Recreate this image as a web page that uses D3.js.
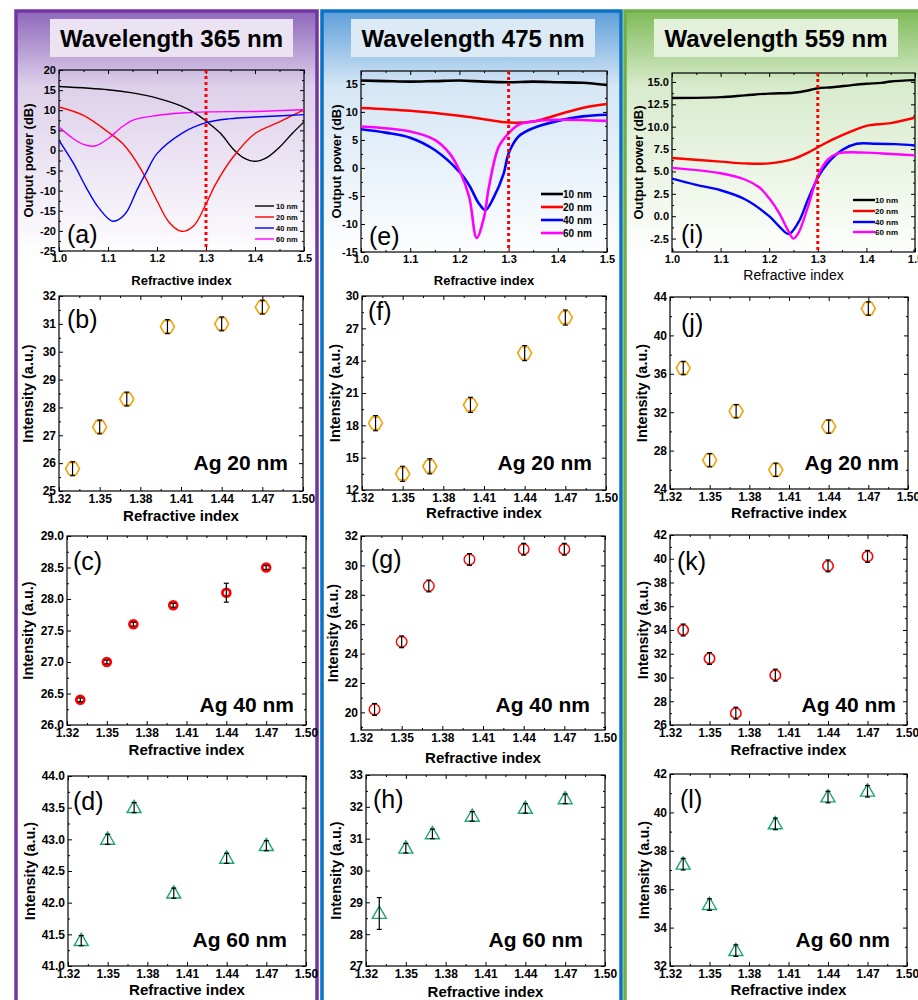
<!DOCTYPE html>
<html>
<head>
<meta charset="utf-8">
<script src="https://cdn.jsdelivr.net/npm/d3@7"></script>
<style>
  body { margin: 0; background: #fff; }
  svg { display: block; font-family: Arial, "Liberation Sans", sans-serif; }
</style>
</head>
<body>
<div id="chart"></div>
<script>
// ---- data ----
var thickness = ["10 nm", "20 nm", "40 nm", "60 nm"];
var lineColors = ["#000000", "#ff0000", "#0000ff", "#ff00ff"];

// output power (dB) vs refractive index
var c365_10 = [[1.0,15.9],[1.1,15.1],[1.15,14.3],[1.2,13.0],[1.25,11.0],[1.28,9.1],[1.3,7.3],[1.33,4.2],[1.355,0.4],[1.375,-1.7],[1.4,-2.7],[1.425,-1.7],[1.45,0.8],[1.475,4.1],[1.5,7.1]];
var c365_20 = [[1.0,10.8],[1.05,8.7],[1.1,4.6],[1.13,1.7],[1.165,-4.2],[1.2,-12.5],[1.225,-17.9],[1.25,-20.1],[1.275,-18.7],[1.3,-13.3],[1.32,-8.3],[1.355,-1.7],[1.4,4.2],[1.45,7.1],[1.5,10.1]];
var c365_40 = [[1.0,2.5],[1.03,-3.3],[1.055,-9.1],[1.08,-14.1],[1.11,-17.6],[1.135,-15.8],[1.16,-9.6],[1.18,-5.0],[1.2,-0.8],[1.25,4.2],[1.3,6.9],[1.35,7.9],[1.4,8.3],[1.5,8.9]];
var c365_60 = [[1.0,5.8],[1.025,3.3],[1.05,1.5],[1.073,1.1],[1.1,2.9],[1.124,5.4],[1.15,7.5],[1.2,8.7],[1.25,9.3],[1.3,9.6],[1.4,9.7],[1.5,10.1]];

var c475_10 = [[1.0,15.6],[1.05,15.5],[1.1,15.4],[1.15,15.5],[1.2,15.6],[1.25,15.4],[1.3,15.3],[1.35,15.4],[1.4,15.3],[1.45,15.2],[1.5,14.8]];
var c475_20 = [[1.0,10.7],[1.1,10.2],[1.2,9.3],[1.25,8.7],[1.3,8.1],[1.35,8.3],[1.4,9.5],[1.45,10.7],[1.5,11.4]];
var c475_40 = [[1.0,6.9],[1.05,6.3],[1.1,5.4],[1.15,3.2],[1.2,-0.7],[1.22,-3.1],[1.24,-6.4],[1.253,-7.5],[1.27,-5.2],[1.29,-1.0],[1.3,2.6],[1.32,5.6],[1.35,7.1],[1.4,8.4],[1.45,9.2],[1.5,9.5]];
var c475_60 = [[1.0,7.4],[1.1,6.5],[1.15,5.0],[1.18,2.6],[1.2,-0.4],[1.22,-5.2],[1.235,-12.5],[1.25,-8.8],[1.26,-3.4],[1.28,3.8],[1.3,6.2],[1.32,7.7],[1.35,8.3],[1.4,8.6],[1.5,8.4]];

var c559_10 = [[1.0,13.2],[1.1,13.3],[1.15,13.5],[1.2,13.7],[1.25,13.8],[1.28,14.05],[1.3,14.3],[1.33,14.4],[1.37,14.65],[1.4,14.8],[1.43,14.9],[1.45,15.05],[1.5,15.2]];
var c559_20 = [[1.0,6.5],[1.1,6.1],[1.15,5.9],[1.2,5.9],[1.25,6.4],[1.28,7.1],[1.3,7.7],[1.33,8.55],[1.37,9.5],[1.4,10.1],[1.45,10.4],[1.5,11.0]];
var c559_40 = [[1.0,4.2],[1.05,3.5],[1.1,2.9],[1.15,1.9],[1.2,0.0],[1.22,-1.1],[1.24,-2.0],[1.26,-0.7],[1.28,1.9],[1.3,4.3],[1.32,5.9],[1.35,7.4],[1.38,8.1],[1.42,8.1],[1.46,8.05],[1.5,7.9]];
var c559_60 = [[1.0,5.4],[1.1,4.8],[1.15,4.1],[1.18,3.2],[1.2,2.0],[1.22,0.4],[1.24,-1.7],[1.25,-2.5],[1.26,-1.9],[1.28,1.1],[1.3,4.5],[1.32,6.3],[1.34,7.0],[1.4,7.1],[1.45,6.95],[1.5,6.8]];

// intensity vs refractive index
var refIdx = [1.33, 1.35, 1.37, 1.40, 1.44, 1.47];
var ag20_365 = [25.8, 27.3, 28.3, 30.9, 31.0, 31.6];
var ag20_365err = [0.25, 0.25, 0.25, 0.25, 0.25, 0.25];
var ag20_475 = [18.2, 13.5, 14.2, 19.9, 24.7, 28.0];
var ag20_475err = [0.7, 0.7, 0.7, 0.7, 0.7, 0.7];
var ag20_559 = [36.6, 27.0, 32.1, 26.0, 30.5, 42.8];
var ag20_559err = [0.7, 0.7, 0.7, 0.7, 0.7, 0.7];
var ag40_365 = [26.4, 27.0, 27.6, 27.9, 28.1, 28.5];
var ag40_365err = [0.03, 0.03, 0.03, 0.03, 0.15, 0.03];
var ag40_475 = [20.2, 24.8, 28.6, 30.4, 31.1, 31.1];
var ag40_475err = [0.4, 0.4, 0.4, 0.4, 0.4, 0.4];
var ag40_559 = [34.0, 31.6, 27.0, 30.2, 39.4, 40.2];
var ag40_559err = [0.5, 0.5, 0.5, 0.5, 0.5, 0.5];
var ag60_365 = [41.4, 43.0, 43.5, 42.15, 42.7, 42.9];
var ag60_365err = [0.08, 0.08, 0.08, 0.08, 0.08, 0.08];
var ag60_475 = [28.65, 30.7, 31.15, 31.7, 31.95, 32.25];
var ag60_475err = [0.5, 0.15, 0.15, 0.15, 0.15, 0.15];
var ag60_559 = [37.3, 35.2, 32.8, 39.4, 40.8, 41.1];
var ag60_559err = [0.3, 0.3, 0.3, 0.3, 0.3, 0.3];

// tick labels
var nTicksTop = [1.0, 1.1, 1.2, 1.3, 1.4, 1.5];
var nTicksScatter = [1.32, 1.35, 1.38, 1.41, 1.44, 1.47, 1.50];
var yTicks_a = [-25, -20, -15, -10, -5, 0, 5, 10, 15, 20];
var yTicks_e = [-15, -10, -5, 0, 5, 10, 15];
var yTicks_i = [-2.5, 0, 2.5, 5, 7.5, 10, 12.5, 15];
var yTicks_b = [25, 26, 27, 28, 29, 30, 31, 32];
var yTicks_f = [12, 15, 18, 21, 24, 27, 30];
var yTicks_j = [24, 28, 32, 36, 40, 44];
var yTicks_c = [26, 26.5, 27, 27.5, 28, 28.5, 29];
var yTicks_g = [20, 22, 24, 26, 28, 30, 32];
var yTicks_k = [26, 28, 30, 32, 34, 36, 38, 40, 42];
var yTicks_d = [41, 41.5, 42, 42.5, 43, 43.5, 44];
var yTicks_h = [27, 28, 29, 30, 31, 32, 33];
var yTicks_l = [32, 34, 36, 38, 40, 42];

// ---- drawing ----
var svg = d3.select("#chart").append("svg")
    .attr("width", 918)
    .attr("height", 1000);

var defs = svg.append("defs");

var columns = [
  { x: 16, w: 301, stroke: "#7434a4", c0: "#8e67bb", c1: "#ddd0ea", box: [50, 293], boxFill: "#ebe3f2", title: "Wavelength 365 nm" },
  { x: 322, w: 299, stroke: "#0872c4", c0: "#5e9fda", c1: "#d5e6f5", box: [351, 595], boxFill: "#dceaf6", title: "Wavelength 475 nm" },
  { x: 625, w: 400, stroke: "#6fae48", c0: "#7fbb5a", c1: "#d8ebcc", box: [654, 898], boxFill: "#e3f0da", title: "Wavelength 559 nm" }
];

columns.forEach(function(c, i) {
  var grad = defs.append("linearGradient")
      .attr("id", "colgrad" + i)
      .attr("gradientUnits", "userSpaceOnUse")
      .attr("x1", 0).attr("x2", 0).attr("y1", 11).attr("y2", 260);
  grad.append("stop").attr("offset", 0).attr("stop-color", c.c0);
  grad.append("stop").attr("offset", 0.3).attr("stop-color", c.c1);
  grad.append("stop").attr("offset", 1).attr("stop-color", "#ffffff");

  svg.append("rect")
      .attr("x", c.x).attr("y", 11)
      .attr("width", c.w).attr("height", 1100)
      .attr("fill", "url(#colgrad" + i + ")")
      .attr("stroke", c.stroke)
      .attr("stroke-width", 3.5);

  svg.append("rect")
      .attr("x", c.box[0]).attr("y", 19)
      .attr("width", c.box[1] - c.box[0]).attr("height", 38)
      .attr("fill", c.boxFill);

  svg.append("text")
      .attr("x", (c.box[0] + c.box[1]) / 2)
      .attr("y", 47)
      .attr("text-anchor", "middle")
      .attr("font-size", 24)
      .attr("font-weight", "bold")
      .text(c.title);
});

function fmtDash(f) {
  return function(d) { return f(d).replace("\u2212", "-"); };
}

// frame + axes with inward ticks on all four sides
function makeFrame(p) {
  var f = p.f;
  var g = svg.append("g");
  var x = d3.scaleLinear().domain(p.xDom).range([f[0], f[1]]);
  var y = d3.scaleLinear().domain(p.yDom).range([f[3], f[2]]);

  var xMinor = [], yMinor = [];
  for (var i = 0; i < p.xTicks.length - 1; i++) xMinor.push((p.xTicks[i] + p.xTicks[i + 1]) / 2);
  for (var j = 0; j < p.yTicks.length - 1; j++) yMinor.push((p.yTicks[j] + p.yTicks[j + 1]) / 2);
  if (p.yDom[0] < p.yTicks[0]) yMinor.push(p.yTicks[0] - (p.yTicks[1] - p.yTicks[0]) / 2);
  if (p.yDom[1] > p.yTicks[p.yTicks.length - 1]) yMinor.push(p.yTicks[p.yTicks.length - 1] + (p.yTicks[1] - p.yTicks[0]) / 2);
  yMinor = yMinor.filter(function(v) { return v >= p.yDom[0] && v <= p.yDom[1]; });

  var axes = [
    [d3.axisBottom(x), f[3], "x", true],
    [d3.axisTop(x), f[2], "x", false],
    [d3.axisLeft(y), f[0], "y", true],
    [d3.axisRight(y), f[1], "y", false]
  ];
  axes.forEach(function(a) {
    var ax = a[0];
    var tr = a[2] === "x" ? "translate(0," + a[1] + ")" : "translate(" + a[1] + ",0)";
    var major = ax.tickValues(a[2] === "x" ? p.xTicks : p.yTicks)
        .tickSize(-4).tickPadding(a[2] === "x" ? 3 : 3)
        .tickFormat(a[3] ? (a[2] === "x" ? p.fmtX : p.fmtY) : "");
    var gm = g.append("g").attr("transform", tr).call(major);
    gm.select(".domain").remove();
    gm.selectAll("text")
        .attr("font-size", p.tickFont)
        .attr("font-weight", "bold")
        .attr("font-family", "Arial, 'Liberation Sans', sans-serif")
        .attr("fill", "#000");
    gm.selectAll("line").attr("stroke", "#000");
    var ax2 = (a[2] === "x")
        ? (a[3] ? d3.axisBottom(x) : d3.axisTop(x))
        : (a[3] ? d3.axisLeft(y) : d3.axisRight(y));
    var gn = g.append("g").attr("transform", tr)
        .call(ax2.tickValues(a[2] === "x" ? xMinor : yMinor).tickSize(-2).tickFormat(""));
    gn.select(".domain").remove();
    gn.selectAll("line").attr("stroke", "#000");
  });

  g.append("rect")
      .attr("x", f[0]).attr("y", f[2])
      .attr("width", f[1] - f[0]).attr("height", f[3] - f[2])
      .attr("fill", "none")
      .attr("stroke", "#000")
      .attr("stroke-width", 1.2);

  // axis titles
  g.append("text")
      .attr("transform", "translate(" + p.yTitleX + "," + ((f[2] + f[3]) / 2) + ") rotate(-90)")
      .attr("text-anchor", "middle")
      .attr("dominant-baseline", "central")
      .attr("font-size", p.yTitleSize)
      .attr("font-weight", "bold")
      .text(p.yTitle);
  g.append("text")
      .attr("x", (f[0] + f[1]) / 2)
      .attr("y", p.xTitleY)
      .attr("text-anchor", "middle")
      .attr("font-size", p.xTitleSize)
      .attr("font-weight", p.xTitleBold === false ? "normal" : "bold")
      .text("Refractive index");

  // panel letter
  g.append("text")
      .attr("x", p.label[1]).attr("y", p.label[2])
      .attr("font-size", 25)
      .text(p.label[0]);

  return { g: g, x: x, y: y };
}

var linePanels = [
  { f: [59, 304, 70, 251], yDom: [-25, 20], yTicks: yTicks_a, fmtY: fmtDash(d3.format("d")),
    series: [c365_10, c365_20, c365_40, c365_60], lw: 1.4, label: ["(a)", 67, 243],
    legend: { x0: 255, x1: 274, tx: 276, ys: [206, 217, 228, 239], fs: 7.5, lw: 1.4 },
    yTitleX: 28, xTitleY: 285, xTitleSize: 13 },
  { f: [361, 607, 71, 252], yDom: [-15, 17.3], yTicks: yTicks_e, fmtY: fmtDash(d3.format("d")),
    series: [c475_10, c475_20, c475_40, c475_60], lw: 2.6, label: ["(e)", 369, 245],
    legend: { x0: 541, x1: 563, tx: 563, ys: [194, 207, 220, 233], fs: 10, lw: 2.6 },
    yTitleX: 336, xTitleY: 285, xTitleSize: 13 },
  { f: [672, 915, 73, 252], yDom: [-4, 16], yTicks: yTicks_i, fmtY: fmtDash(d3.format(".1f")),
    series: [c559_10, c559_20, c559_40, c559_60], lw: 2.4, label: ["(i)", 681, 243],
    legend: { x0: 853, x1: 875, tx: 875, ys: [200, 211, 222, 232], fs: 8, lw: 2.4 },
    yTitleX: 638, xTitleY: 280, xTitleSize: 14, xTitleBold: false }
];

linePanels.forEach(function(p, k) {
  p.xDom = [1.0, 1.5];
  p.xTicks = nTicksTop;
  p.fmtX = d3.format(".1f");
  p.tickFont = 11;
  p.yTitle = "Output power (dB)";
  p.yTitleSize = 13;
  var fr = makeFrame(p);
  var f = p.f;

  defs.append("clipPath").attr("id", "clip" + k)
    .append("rect")
      .attr("x", f[0]).attr("y", f[2])
      .attr("width", f[1] - f[0]).attr("height", f[3] - f[2]);

  var line = d3.line()
      .x(function(d) { return fr.x(d[0]); })
      .y(function(d) { return fr.y(d[1]); })
      .curve(d3.curveCatmullRom.alpha(0.5));

  var lg = fr.g.append("g").attr("clip-path", "url(#clip" + k + ")");
  p.series.forEach(function(s, i) {
    lg.append("path")
        .datum(s)
        .attr("fill", "none")
        .attr("stroke", lineColors[i])
        .attr("stroke-width", p.lw)
        .attr("d", line);
  });

  // marker line at n = 1.3
  fr.g.append("line")
      .attr("x1", fr.x(1.3)).attr("x2", fr.x(1.3))
      .attr("y1", f[2]).attr("y2", f[3])
      .attr("stroke", "#ff0000")
      .attr("stroke-width", 3)
      .attr("stroke-dasharray", "3,3");

  // legend
  thickness.forEach(function(t, i) {
    fr.g.append("line")
        .attr("x1", p.legend.x0).attr("x2", p.legend.x1)
        .attr("y1", p.legend.ys[i]).attr("y2", p.legend.ys[i])
        .attr("stroke", lineColors[i])
        .attr("stroke-width", p.legend.lw);
    fr.g.append("text")
        .attr("x", p.legend.tx).attr("y", p.legend.ys[i])
        .attr("dominant-baseline", "central")
        .attr("font-size", p.legend.fs)
        .attr("font-weight", "bold")
        .text(t);
  });
});

// marker shapes
function hexagon(r) {
  var pts = d3.range(6).map(function(i) {
    var a = Math.PI / 3 * i;
    return [r * Math.cos(a), r * Math.sin(a)];
  });
  return "M" + pts.join("L") + "Z";
}
function triangle(w) {
  var h = w * 0.87;
  return "M0," + (-h * 0.6) + "L" + (w / 2) + "," + (h * 0.4) + "L" + (-w / 2) + "," + (h * 0.4) + "Z";
}

var scatterPanels = [
  { f: [59, 303, 296, 491], yDom: [25, 32], yTicks: yTicks_b, fmt: "d", vals: ag20_365, err: ag20_365err, mk: "hex", label: ["(b)", 67, 328], yTitleX: 28, xTitleY: 521, tag: ["Ag 20 nm", 288, 470] },
  { f: [362, 606, 296, 490], yDom: [12, 30], yTicks: yTicks_f, fmt: "d", vals: ag20_475, err: ag20_475err, mk: "hex", label: ["(f)", 368, 320], yTitleX: 335, xTitleY: 518, tag: ["Ag 20 nm", 592, 470] },
  { f: [670, 908, 297, 489], yDom: [24, 44], yTicks: yTicks_j, fmt: "d", vals: ag20_559, err: ag20_559err, mk: "hex", label: ["(j)", 681, 332], yTitleX: 642, xTitleY: 518, tag: ["Ag 20 nm", 899, 470] },
  { f: [67, 306, 536, 725], yDom: [26, 29], yTicks: yTicks_c, fmt: ".1f", vals: ag40_365, err: ag40_365err, mk: "circ", r: 3.9, sw: 2.8, label: ["(c)", 73, 570], yTitleX: 28, xTitleY: 755, tag: ["Ag 40 nm", 294, 712] },
  { f: [361, 605, 536, 730], yDom: [18.8, 32], yTicks: yTicks_g, fmt: "d", vals: ag40_475, err: ag40_475err, mk: "circ", r: 5.3, sw: 1.4, label: ["(g)", 371, 568], yTitleX: 333, xTitleY: 763, tag: ["Ag 40 nm", 590, 712] },
  { f: [670, 907, 535, 725], yDom: [26, 42], yTicks: yTicks_k, fmt: "d", vals: ag40_559, err: ag40_559err, mk: "circ", r: 5.2, sw: 1.6, label: ["(k)", 677, 570], yTitleX: 643, xTitleY: 755, tag: ["Ag 40 nm", 896, 712] },
  { f: [68, 306, 776, 966], yDom: [41, 44], yTicks: yTicks_d, fmt: ".1f", vals: ag60_365, err: ag60_365err, mk: "tri", label: ["(d)", 73, 810], yTitleX: 30, xTitleY: 995, tag: ["Ag 60 nm", 287, 947] },
  { f: [366, 605, 775, 966], yDom: [27, 33], yTicks: yTicks_h, fmt: "d", vals: ag60_475, err: ag60_475err, mk: "tri", label: ["(h)", 373, 808], yTitleX: 336, xTitleY: 997, tag: ["Ag 60 nm", 583, 947] },
  { f: [670, 907, 774, 966], yDom: [32, 42], yTicks: yTicks_l, fmt: "d", vals: ag60_559, err: ag60_559err, mk: "tri", label: ["(l)", 680, 808], yTitleX: 644, xTitleY: 995, tag: ["Ag 60 nm", 890, 947] }
];

scatterPanels.forEach(function(p) {
  p.xDom = [1.32, 1.50];
  p.xTicks = nTicksScatter;
  p.fmtX = d3.format(".2f");
  p.fmtY = fmtDash(d3.format(p.fmt));
  p.tickFont = 12;
  p.yTitle = "Intensity (a.u.)";
  p.yTitleSize = 14.5;
  p.xTitleSize = 15;
  var fr = makeFrame(p);

  var pts = refIdx.map(function(n, i) { return { n: n, v: p.vals[i], e: p.err[i] }; });
  var pg = fr.g.selectAll(".pt").data(pts).enter().append("g")
      .attr("transform", function(d) { return "translate(" + fr.x(d.n) + "," + fr.y(d.v) + ")"; });

  if (p.mk === "hex") {
    pg.append("path").attr("d", hexagon(7))
        .attr("fill", "none").attr("stroke", "#f0a30a").attr("stroke-width", 1.6);
  } else if (p.mk === "circ") {
    pg.append("circle").attr("r", p.r)
        .attr("fill", "none").attr("stroke", "#ff0000").attr("stroke-width", p.sw);
  } else {
    pg.append("path").attr("d", triangle(14))
        .attr("fill", "none").attr("stroke", "#21a47a").attr("stroke-width", 1.4);
  }

  // error bars
  pg.append("line")
      .attr("x1", 0).attr("x2", 0)
      .attr("y1", function(d) { return fr.y(d.v + d.e) - fr.y(d.v); })
      .attr("y2", function(d) { return fr.y(d.v - d.e) - fr.y(d.v); })
      .attr("stroke", "#000").attr("stroke-width", 1.2);
  [1, -1].forEach(function(s) {
    pg.append("line")
        .attr("x1", -2.5).attr("x2", 2.5)
        .attr("y1", function(d) { return fr.y(d.v + s * d.e) - fr.y(d.v); })
        .attr("y2", function(d) { return fr.y(d.v + s * d.e) - fr.y(d.v); })
        .attr("stroke", "#000").attr("stroke-width", 1.2);
  });

  fr.g.append("text")
      .attr("x", p.tag[1]).attr("y", p.tag[2])
      .attr("text-anchor", "end")
      .attr("font-size", 21)
      .attr("font-weight", "bold")
      .text(p.tag[0]);
});
</script>
</body>
</html>
